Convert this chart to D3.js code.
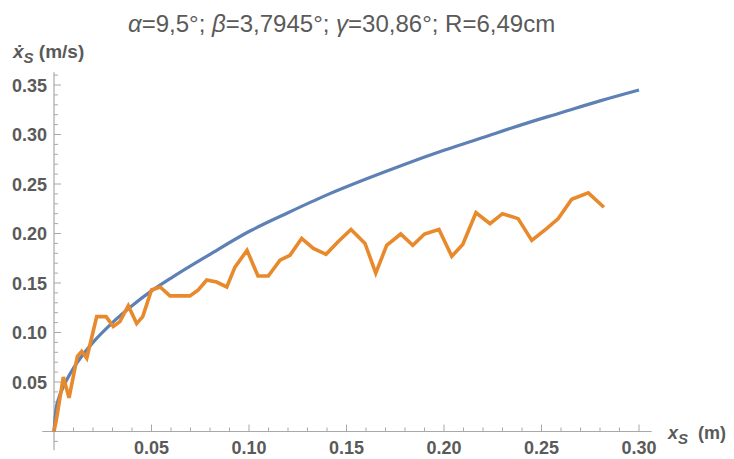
<!DOCTYPE html>
<html lang="en">
  <head>
    <meta charset="utf-8">
    <title>x_s velocity chart</title>
    <script src="https://cdn.jsdelivr.net/npm/d3@7"></script>
    <style>
      body { margin: 0; background: #fff; }
      text { font-family: "Liberation Sans", Arial, sans-serif; fill: #5a5a5a; }
      .tick-label { font-size: 18px; font-weight: bold; }
      .axis-line { stroke: #a8a8a8; stroke-width: 1.2px; }
      .tick { stroke: #a8a8a8; stroke-width: 1px; }
    </style>
  </head>
  <body>
    <svg id="chart"></svg>
    <script>
      // measured series (orange)
      var measX = [0, 0.0014, 0.0048, 0.0077, 0.012, 0.0142, 0.0168, 0.0219, 0.0267, 0.0304,
                   0.0338, 0.0381, 0.0424, 0.0455, 0.050, 0.0544, 0.0595, 0.0697, 0.074, 0.0783,
                   0.0834, 0.0886, 0.0928, 0.099, 0.1046, 0.1099, 0.1159, 0.121, 0.127, 0.133,
                   0.1395, 0.1458, 0.1523, 0.1595, 0.165, 0.1706, 0.1778, 0.184, 0.190, 0.1974,
                   0.204, 0.2096, 0.2164, 0.2236, 0.230, 0.238, 0.245, 0.2526, 0.2586, 0.2655,
                   0.274, 0.282];
      var measV = [0, 0.014, 0.055, 0.034, 0.076, 0.081, 0.074, 0.116, 0.116, 0.106,
                   0.111, 0.127, 0.109, 0.116, 0.143, 0.146, 0.137, 0.137, 0.143, 0.153,
                   0.151, 0.146, 0.166, 0.183, 0.157, 0.157, 0.173, 0.178, 0.195, 0.185,
                   0.179, 0.192, 0.204, 0.190, 0.160, 0.188, 0.1995, 0.188, 0.1995, 0.204,
                   0.177, 0.189, 0.221, 0.210, 0.220, 0.215, 0.193, 0.205, 0.215, 0.2345,
                   0.241, 0.2265];

      // model curve (blue)
      var modelX = [0, 0.001, 0.0025, 0.005, 0.01, 0.015, 0.02, 0.03, 0.04, 0.05, 0.06, 0.08,
                    0.10, 0.12, 0.14, 0.16, 0.18, 0.20, 0.22, 0.24, 0.26, 0.28, 0.30];
      var modelV = [0, 0.022, 0.034, 0.046, 0.064, 0.078, 0.090, 0.110, 0.127, 0.142, 0.155, 0.179,
                    0.202, 0.221, 0.239, 0.255, 0.270, 0.284, 0.297, 0.310, 0.322, 0.334, 0.345];

      var xTicks = [0.05, 0.10, 0.15, 0.20, 0.25, 0.30];
      var yTicks = [0.05, 0.10, 0.15, 0.20, 0.25, 0.30, 0.35];

      var width = 734, height = 459;

      var svg = d3.select("#chart")
          .attr("width", width)
          .attr("height", height);

      var x = d3.scaleLinear().domain([0, 0.30]).range([54, 639]);
      var y = d3.scaleLinear().domain([0, 0.35]).range([431.5, 85]);

      // axes lines
      svg.append("line").attr("class", "axis-line")
          .attr("x1", x(-0.006)).attr("x2", x(0.3065))
          .attr("y1", y(0)).attr("y2", y(0));
      svg.append("line").attr("class", "axis-line")
          .attr("x1", x(0)).attr("x2", x(0))
          .attr("y1", y(-0.019)).attr("y2", y(0.363));

      // minor + major ticks, x
      var xMinor = d3.range(1, 31).map(function(i) { return i / 100; });
      svg.selectAll(".xt").data(xMinor).enter().append("line")
          .attr("class", "tick")
          .attr("x1", function(d) { return x(d); })
          .attr("x2", function(d) { return x(d); })
          .attr("y1", y(0))
          .attr("y2", function(d, i) { return y(0) - ((i + 1) % 5 === 0 ? 7 : 4); });

      // minor + major ticks, y
      var yMinor = d3.range(-1, 37).map(function(i) { return i / 100; }).filter(function(d) { return d !== 0; });
      svg.selectAll(".yt").data(yMinor).enter().append("line")
          .attr("class", "tick")
          .attr("y1", function(d) { return y(d); })
          .attr("y2", function(d) { return y(d); })
          .attr("x1", x(0))
          .attr("x2", function(d) { return x(0) + (Math.round(d * 100) % 5 === 0 ? 7 : 4); });

      // tick labels
      svg.selectAll(".xl").data(xTicks).enter().append("text")
          .attr("class", "tick-label")
          .attr("x", function(d) { return x(d); })
          .attr("y", 454)
          .attr("text-anchor", "middle")
          .text(function(d) { return d.toFixed(2); });

      svg.selectAll(".yl").data(yTicks).enter().append("text")
          .attr("class", "tick-label")
          .attr("x", 47)
          .attr("y", function(d) { return y(d) + 6.5; })
          .attr("text-anchor", "end")
          .text(function(d) { return d.toFixed(2); });

      // lines
      var blue = modelX.map(function(d, i) { return [d, modelV[i]]; });
      var orange = measX.map(function(d, i) { return [d, measV[i]]; });

      var line = d3.line()
          .x(function(d) { return x(d[0]); })
          .y(function(d) { return y(d[1]); });

      svg.append("path")
          .datum(blue)
          .attr("fill", "none")
          .attr("stroke", "#5e81b5")
          .attr("stroke-width", 3.2)
          .attr("d", line.curve(d3.curveMonotoneX));

      svg.append("path")
          .datum(orange)
          .attr("fill", "none")
          .attr("stroke", "#e8892b")
          .attr("stroke-width", 3.6)
          .attr("d", d3.line()
              .x(function(d) { return x(d[0]); })
              .y(function(d) { return y(d[1]); })(orange));

      // title
      var title = svg.append("text")
          .attr("x", 128).attr("y", 32)
          .style("font-size", "24px");
      title.append("tspan").style("font-style", "italic").text("α");
      title.append("tspan").text("=9,5°; ");
      title.append("tspan").style("font-style", "italic").text("β");
      title.append("tspan").text("=3,7945°; ");
      title.append("tspan").style("font-style", "italic").text("γ");
      title.append("tspan").text("=30,86°; R=6,49cm");

      // axis labels
      var yl = svg.append("text")
          .attr("x", 13).attr("y", 58)
          .style("font-size", "19px").style("font-weight", "bold");
      yl.append("tspan").style("font-style", "italic").text("ẋ");
      yl.append("tspan").attr("dy", 5).style("font-size", "15px").style("font-style", "italic").text("S");
      yl.append("tspan").attr("dy", -5).text("\u00a0(m/s)");

      var xl = svg.append("text")
          .attr("x", 668).attr("y", 439)
          .style("font-size", "18px").style("font-weight", "bold");
      xl.append("tspan").style("font-style", "italic").text("x");
      xl.append("tspan").attr("dy", 5).style("font-size", "15px").style("font-style", "italic").text("S");
      xl.append("tspan").attr("dy", -5).text("\u00a0\u00a0(m)");
    </script>
  </body>
</html>
